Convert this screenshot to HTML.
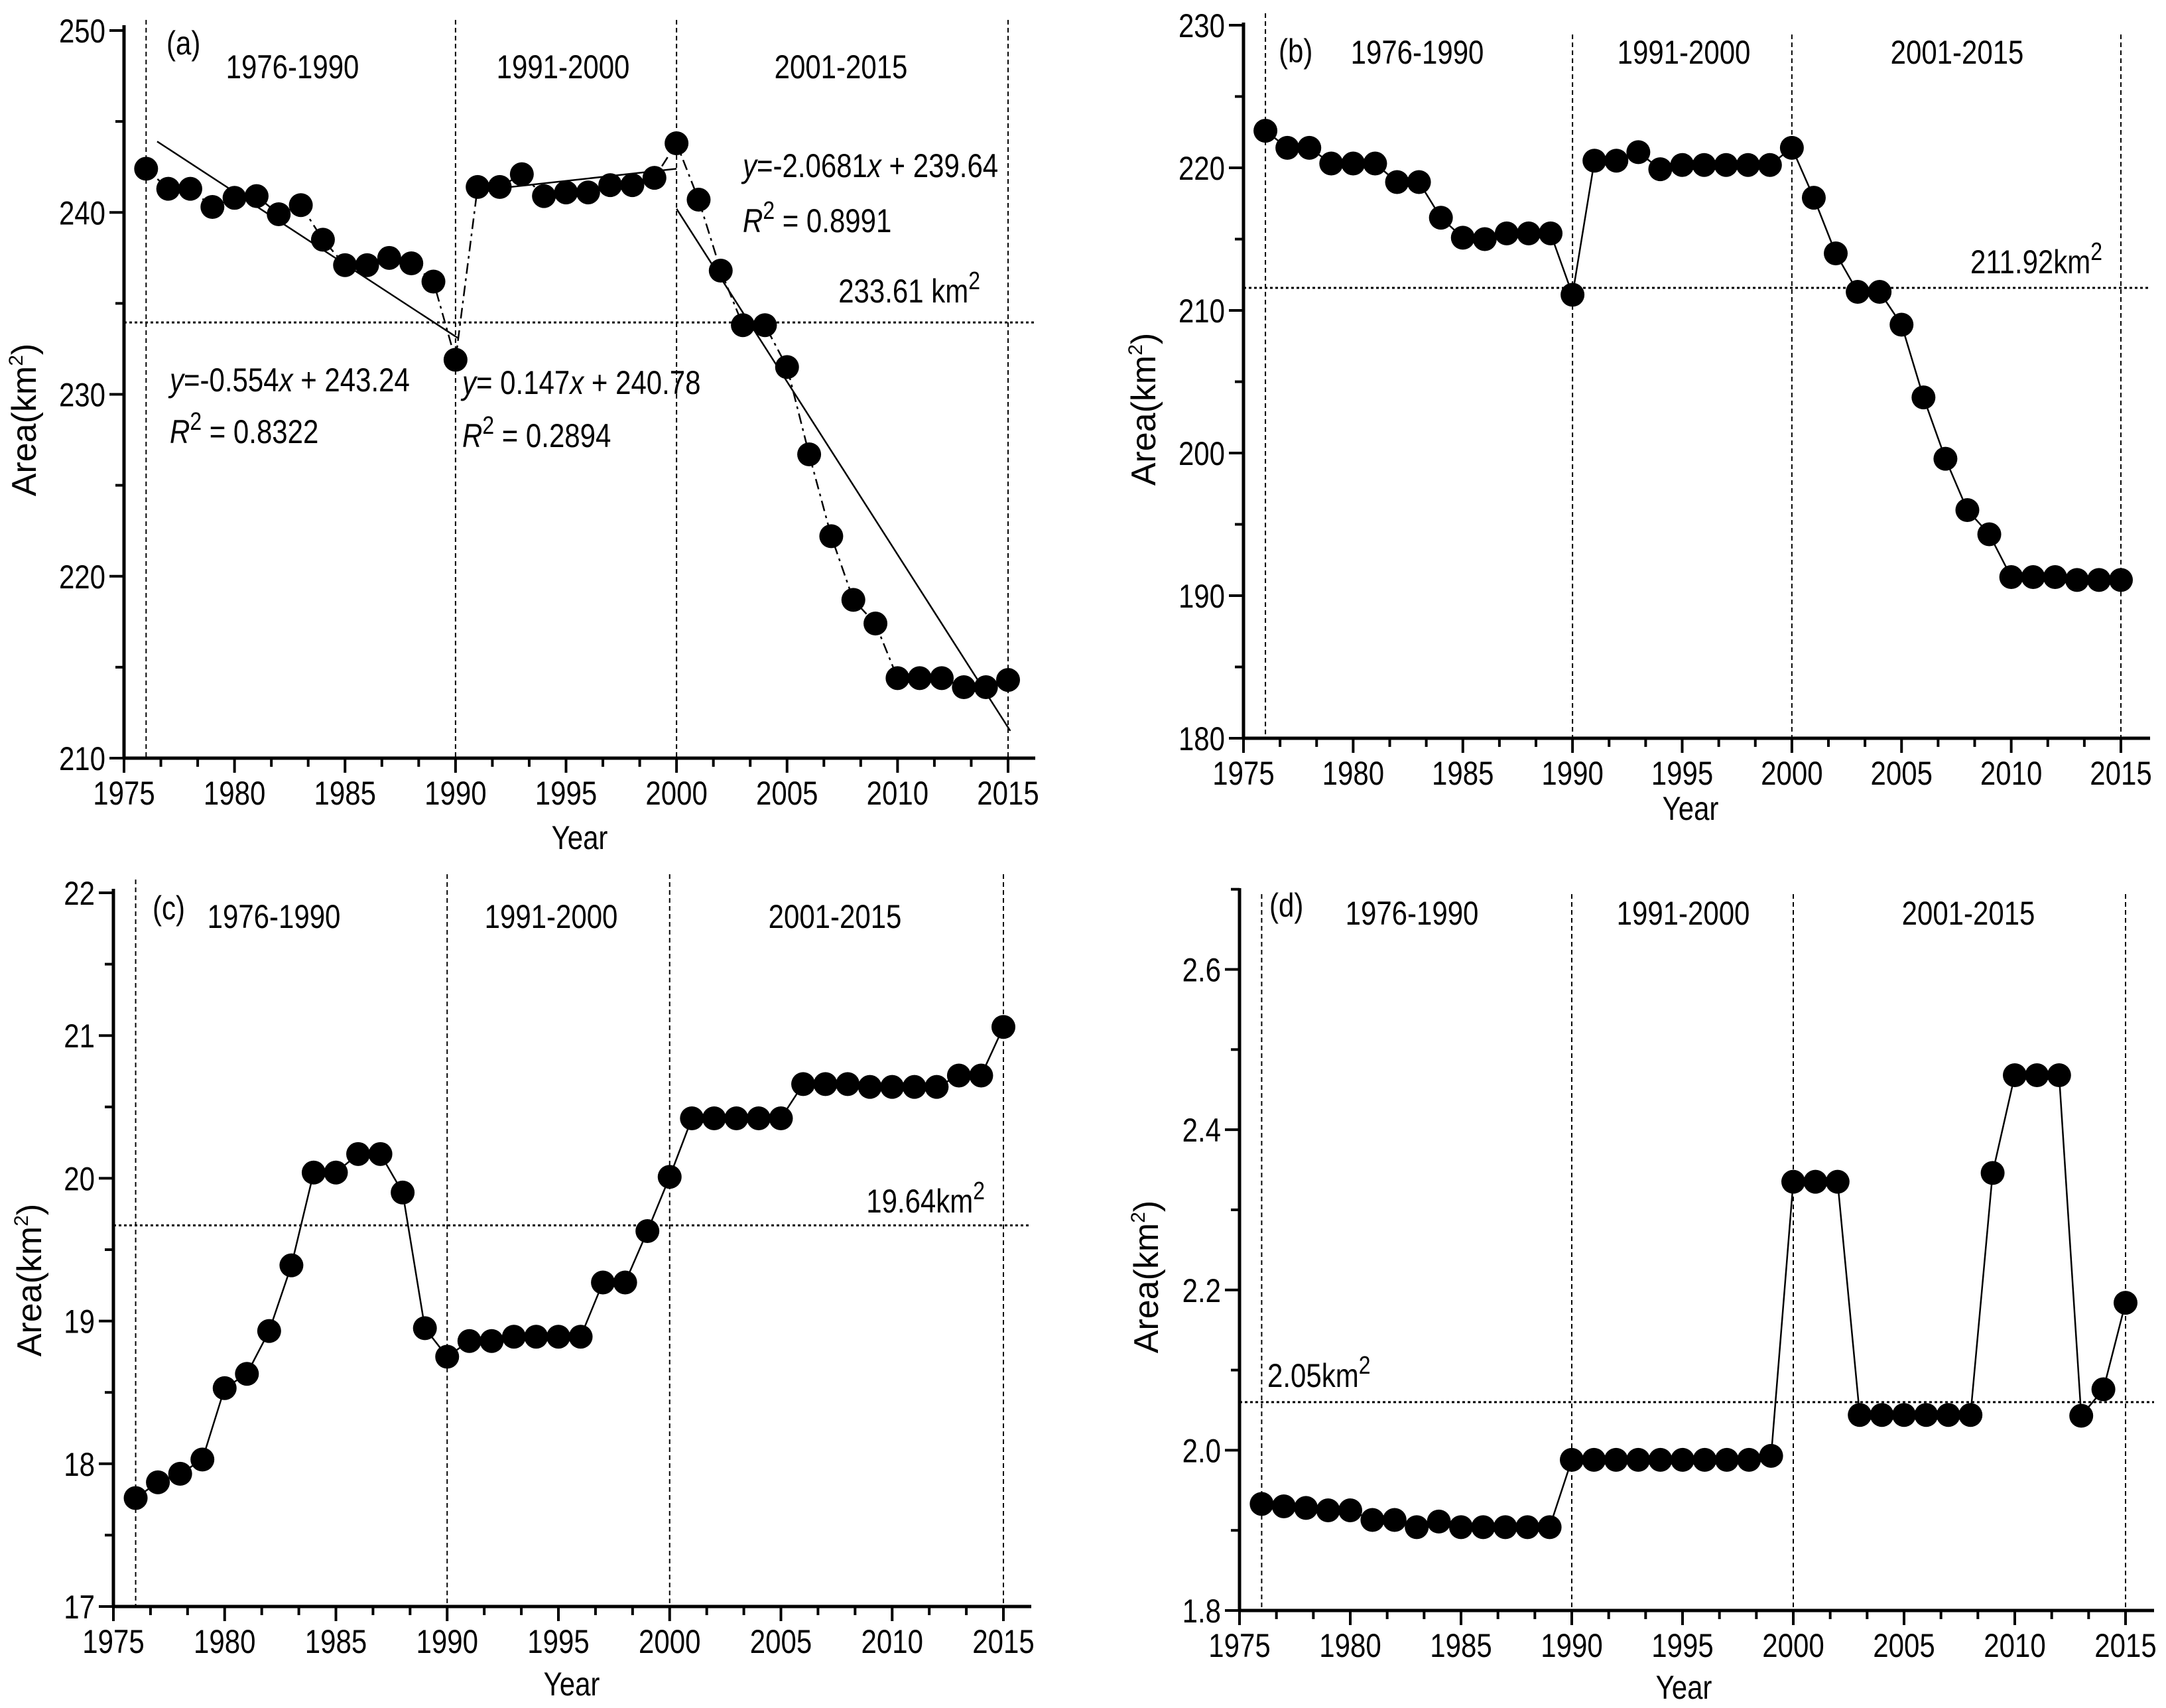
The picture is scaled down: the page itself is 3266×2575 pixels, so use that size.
<!DOCTYPE html>
<html><head><meta charset="utf-8"><style>
html,body{margin:0;padding:0;background:#fff}
svg{display:block}
text{fill:#000}
.tk{font-family:"Liberation Sans",sans-serif;font-size:50px}
.ax{font-family:"Liberation Sans",sans-serif;font-size:52px}
</style></head><body>
<svg id="fig" width="3266" height="2575" viewBox="0 0 3266 2575" xmlns="http://www.w3.org/2000/svg"></svg>
<script>
const years = [];
for (let y = 1976; y <= 2015; y++) years.push(y);
const xTickLabels = ['1975','1980','1985','1990','1995','2000','2005','2010','2015'];
const periodLabels = ['1976-1990','1991-2000','2001-2015'];
const seriesA = [242.4,241.3,241.3,240.3,240.8,240.9,239.9,240.4,238.5,237.1,237.1,237.5,237.2,236.2,231.9,241.4,241.4,242.1,240.9,241.1,241.1,241.5,241.5,241.9,243.8,240.7,236.8,233.8,233.8,231.5,226.7,222.2,218.7,217.4,214.4,214.4,214.4,213.9,213.9,214.3];
const seriesB = [222.6,221.4,221.4,220.3,220.3,220.3,219.0,219.0,216.5,215.1,215.0,215.4,215.4,215.4,211.1,220.5,220.5,221.1,219.9,220.2,220.2,220.2,220.2,220.2,221.4,217.9,214.0,211.3,211.3,209.0,203.9,199.6,196.0,194.3,191.3,191.3,191.3,191.1,191.1,191.1];
const seriesC = [17.76,17.87,17.93,18.03,18.53,18.63,18.93,19.39,20.04,20.04,20.17,20.17,19.90,18.95,18.75,18.86,18.86,18.89,18.89,18.89,18.89,19.27,19.27,19.63,20.01,20.42,20.42,20.42,20.42,20.42,20.66,20.66,20.66,20.64,20.64,20.64,20.64,20.72,20.72,21.06];
const seriesD = [1.933,1.930,1.928,1.925,1.925,1.913,1.913,1.904,1.911,1.904,1.904,1.904,1.904,1.904,1.988,1.988,1.988,1.988,1.988,1.988,1.988,1.988,1.988,1.993,2.335,2.335,2.335,2.044,2.044,2.044,2.044,2.044,2.044,2.346,2.468,2.468,2.468,2.043,2.076,2.184];
const yTicksA = [210,220,230,240,250];
const yTicksB = [180,190,200,210,220,230];
const yTicksC = [17,18,19,20,21,22];
const yTicksD = [1.8,2.0,2.2,2.4,2.6];
const meanA = 233.95, meanB = 211.58, meanC = 19.67, meanD = 2.06;
const periodYears = [1976,1990,2000,2015];
const regA1 = [1976.5,243.9,1990.1,233.1];
const regA2 = [1991,241.2,2000,242.4];
const regA3 = [2000,240.2,2015.1,211.5];

const NS = 'http://www.w3.org/2000/svg';
const SQ = 0.84;
const svg = document.getElementById('fig');
function mk(tag, attrs, parent, txt){
  const e = document.createElementNS(NS, tag);
  for (const k in attrs) e.setAttribute(k, attrs[k]);
  if (txt !== undefined) e.textContent = txt;
  (parent || svg).appendChild(e);
  return e;
}
// narrow text: positioned via transform with horizontal squeeze
function ntext(x, y, anchor, parent, txt, extra){
  const a = {x:0, y:0, 'text-anchor':anchor, class:'tk', transform:`translate(${x},${y}) scale(${SQ},1)`};
  for (const k in (extra||{})) a[k] = extra[k];
  return mk('text', a, parent, txt);
}

function panel(cfg){
  const g = mk('g', {});
  
  
  const sx = v => cfg.x0 + (v - 1975) / 40 * (cfg.x1 - cfg.x0);
  const sy = v => cfg.yB + (v - cfg.ymin) / (cfg.ymax - cfg.ymin) * (cfg.yT - cfg.yB);
  periodYears.forEach((py, i) => {
    const l = mk('line', {x1:sx(py), x2:sx(py), y1:(i===0?cfg.v0:cfg.vTop), y2:cfg.yB, stroke:'#000','stroke-width':2,'stroke-dasharray':'7 5'}, g);
    
    
  });
  const ml = mk('line', {x1:cfg.x0, x2:cfg.right, y1:sy(cfg.mean), y2:sy(cfg.mean), stroke:'#000','stroke-width':3,'stroke-dasharray':'4 4'}, g);
  
  
  const xa = mk('line', {x1:cfg.x0-2, x2:cfg.right, y1:cfg.yB, y2:cfg.yB, stroke:'#000','stroke-width':5}, g);
  
  
  const ya = mk('line', {x1:cfg.x0, x2:cfg.x0, y1:cfg.axTop, y2:cfg.yB+2, stroke:'#000','stroke-width':5}, g);
  
  
  for (let k = 0; k <= 24; k++) {
    const v = 1975 + k * 5 / 3;
    const major = k % 3 === 0;
    mk('line', {x1:sx(v), x2:sx(v), y1:cfg.yB, y2:cfg.yB + (major?22:13), stroke:'#000','stroke-width':4}, g);
  }
  xTickLabels.forEach(t => {
    const e = ntext(sx(+t), cfg.yB+70, 'middle', g, t);
    
    
  });
  const yt = cfg.yticks;
  const step = yt[1] - yt[0];
  for (let i = 0; i < yt.length; i++) {
    mk('line', {x1:cfg.x0-22, x2:cfg.x0, y1:sy(yt[i]), y2:sy(yt[i]), stroke:'#000','stroke-width':4}, g);
    const e = ntext(cfg.x0-28, sy(yt[i])+18, 'end', g, cfg.fmt(yt[i]));
    
    
    const mv = yt[i] + step/2;
    if (mv <= cfg.ymax + 1e-9) mk('line', {x1:cfg.x0-13, x2:cfg.x0, y1:sy(mv), y2:sy(mv), stroke:'#000','stroke-width':4}, g);
  }
  const pts = cfg.data.map((v,i) => sx(years[i]) + ',' + sy(v)).join(' ');
  const pl = mk('polyline', {points:pts, fill:'none', stroke:'#000','stroke-width':2.5,'stroke-dasharray':cfg.dash||'none'}, g);
  
  
  (cfg.regs||[]).forEach(r => {
    const l = mk('line', {x1:sx(r[0]), y1:sy(r[1]), x2:sx(r[2]), y2:sy(r[3]), stroke:'#000','stroke-width':2.5}, g);
    
    
  });
  cfg.data.forEach((v,i) => {
    const c = mk('ellipse', {cx:sx(years[i]), cy:sy(v), rx:18, ry:18, fill:'#000'}, g);
    
    
  });
  const pl2 = ntext(cfg.tagX, cfg.tagY, 'start', g, '(' + cfg.id + ')', {'font-size':46});
  
  
  periodLabels.forEach((t,i) => {
    const e = ntext(cfg.perX[i], cfg.perY, 'middle', g, t);
    
    
  });
  const yr = ntext(cfg.yearX, cfg.yearY, 'middle', g, 'Year', {'font-size':54});
  
  
  const at = mk('text', {x:0, y:0, 'text-anchor':'middle', class:'ax', transform:`translate(${cfg.areaX},${cfg.areaY}) rotate(-90)`}, g);
  
  
  mk('tspan', {}, at, 'Area(km');
  mk('tspan', {dy:-20, 'font-size':30}, at, '2');
  mk('tspan', {dy:20}, at, ')');
  const mt = ntext(cfg.meanX, cfg.meanY, cfg.meanAnchor, g);
  
  
  mk('tspan', {}, mt, cfg.meanText);
  mk('tspan', {dy:-20, 'font-size':38}, mt, '2');
  return g;
}

const f0 = v => String(v);
const f1 = v => v.toFixed(1);
panel({id:'a', x0:187, x1:1520, yT:46, yB:1143, ymin:210, ymax:250, right:1561, axTop:38, v0:30, vTop:30,
  yticks:yTicksA, fmt:f0, data:seriesA, mean:meanA, dash:'16 7 4 7', regs:[regA1,regA2,regA3],
  tagX:251, tagY:82, perX:[441,849,1268], perY:118, yearX:874, yearY:1280, areaX:54, areaY:633,
  meanText:'233.61 km', meanX:1478, meanY:456, meanAnchor:'end'});
panel({id:'b', x0:1875, x1:3198, yT:38, yB:1113, ymin:180, ymax:230, right:3242, axTop:34, v0:20, vTop:52,
  yticks:yTicksB, fmt:f0, data:seriesB, mean:meanB,
  tagX:1928, tagY:94, perX:[2137,2539,2951], perY:96, yearX:2549, yearY:1236, areaX:1742, areaY:617,
  meanText:'211.92km', meanX:3170, meanY:412, meanAnchor:'end'});
panel({id:'c', x0:171, x1:1513, yT:1346, yB:2422, ymin:17, ymax:22, right:1555, axTop:1340, v0:1326, vTop:1318,
  yticks:yTicksC, fmt:f0, data:seriesC, mean:meanC,
  tagX:230, tagY:1386, perX:[413,831,1259], perY:1399, yearX:862, yearY:2556, areaX:62, areaY:1930,
  meanText:'19.64km', meanX:1485, meanY:1828, meanAnchor:'end'});
panel({id:'d', x0:1869, x1:3205, yT:1461.5 - (2428-1461.5)/8, yB:2428, ymin:1.8, ymax:2.7, right:3248, axTop:1339, v0:1348, vTop:1348,
  yticks:yTicksD, fmt:f1, data:seriesD, mean:meanD,
  tagX:1914, tagY:1382, perX:[2129,2538,2968], perY:1394, yearX:2539, yearY:2561, areaX:1746, areaY:1925,
  meanText:'2.05km', meanX:1911, meanY:2091, meanAnchor:'start'});

function eq(x, y, parts){
  const t = ntext(x, y, 'start', svg);
  
  
  parts.forEach(p => mk('tspan', p[1] || {}, t, p[0]));
}
eq(256, 590, [['y',{'font-style':'italic'}],['=-0.554'],['x',{'font-style':'italic'}],[' + 243.24']]);
eq(256, 668, [['R',{'font-style':'italic'}],['2',{dy:-20,'font-size':38}],[' = 0.8322',{dy:20}]]);
eq(697, 594, [['y',{'font-style':'italic'}],['= 0.147'],['x',{'font-style':'italic'}],[' + 240.78']]);
eq(697, 674, [['R',{'font-style':'italic'}],['2',{dy:-20,'font-size':38}],[' = 0.2894',{dy:20}]]);
eq(1120, 267, [['y',{'font-style':'italic'}],['=-2.0681'],['x',{'font-style':'italic'}],[' + 239.64']]);
eq(1120, 350, [['R',{'font-style':'italic'}],['2',{dy:-20,'font-size':38}],[' = 0.8991',{dy:20}]]);
</script>
</body></html>
